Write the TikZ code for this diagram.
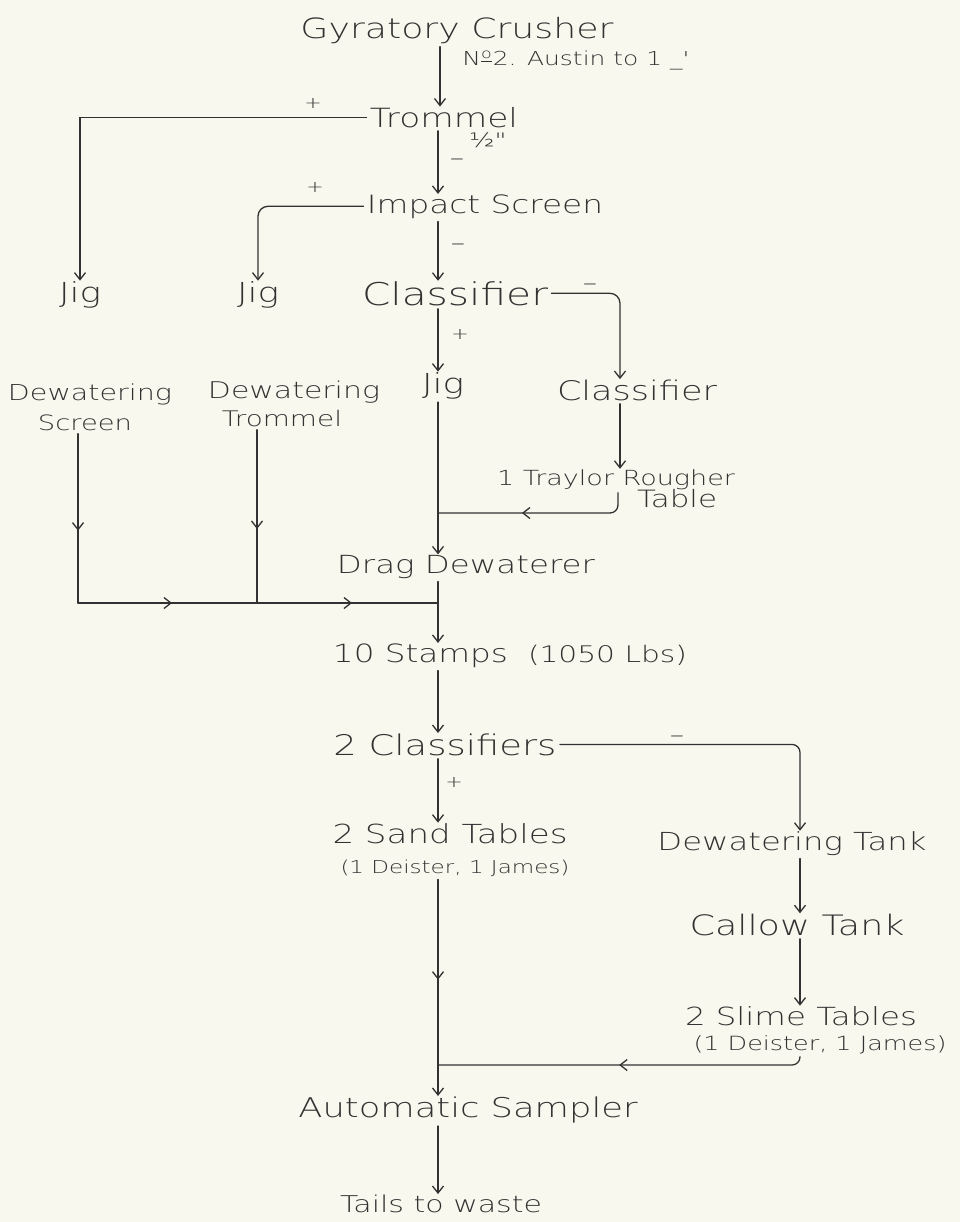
\documentclass[tikz,border=0pt]{standalone}
\usepackage{fontspec}
\newfontfamily\hand{DejaVu Sans ExtraLight}[FakeStretch=1.3]
\usetikzlibrary{arrows.meta,decorations.markings}
\definecolor{paper}{RGB}{248,248,238}
\definecolor{ink}{RGB}{50,50,50}
\newcommand\tw[2]{\resizebox{\dimexpr #1pt/2\relax}{!}{#2}}
\begin{document}
\begin{tikzpicture}[x=0.5pt,y=-0.5pt,color=ink,
  lbl/.style={font=\hand, text=ink, inner sep=0pt, anchor=base},
  sgn/.style={font=\hand\fontsize{8}{8}\selectfont, text=ink, inner sep=0pt, anchor=center},
  msgn/.style={font=\hand\fontsize{11}{11}\selectfont, text=ink, inner sep=0pt, anchor=center},
  wire/.style={draw=ink, line width=0.65pt, line cap=round, shorten <=1.5pt},
  arr/.style={wire, -{Straight Barb[length=3.5pt,width=5.5pt]}},
  midarr/.style={postaction={decorate}, decoration={markings,
      mark=at position #1 with {\arrow{Straight Barb[length=3.5pt,width=5.5pt]}}}},
  midarrtwo/.style 2 args={postaction={decorate}, decoration={markings,
      mark=at position #1 with {\arrow{Straight Barb[length=3.5pt,width=5.5pt]}},
      mark=at position #2 with {\arrow{Straight Barb[length=3.5pt,width=5.5pt]}}}},
]
\path[fill=paper] (0,0) rectangle (960,1222);
\useasboundingbox (0,0) rectangle (960,1222);

% trunk x positions
\coordinate (T0) at (440,0);
\coordinate (T) at (438,0);
\coordinate (B) at (620,0);
\coordinate (Bt) at (618,0);
\coordinate (R) at (800,0);
\coordinate (L) at (78,0);
\coordinate (M) at (257,0);
\coordinate (j1) at (438,513);
\coordinate (j2) at (438,603);
\coordinate (j3) at (438,1065);
\coordinate (cL) at (78,603);
\coordinate (cM) at (257,603);

% nodes
\node[lbl] (crusher) at (457,38) {\tw{313}{Gyratory Crusher}};
\node[lbl] (austin) at (576,65) {\tw{227}{N\textsuperscript{\underline{o}}2. Austin to 1 \_'}};
\node[lbl] (trommel) at (444,127) {\tw{148}{Trommel}};
\node[lbl, font=\hand\fontsize{10}{10}\selectfont] (half) at (488,147) {½"};
\node[lbl] (impact) at (485,213) {\tw{236}{Impact Screen}};
\node[lbl] (jigL) at (80,302) {\tw{42}{Jig}};
\node[lbl] (jigM) at (258,302) {\tw{42}{Jig}};
\node[lbl] (classA) at (455,305) {\tw{186}{Classifier}};
\node[lbl] (jigC) at (443,393) {\tw{42}{Jig}};
\node[lbl] (classB) at (637,400) {\tw{160}{Classifier}};
\node[lbl] (traylor) at (616,485) {\tw{238}{1 Traylor Rougher}};
\node[lbl] (table) at (677,507) {\tw{80}{Table}};
\node[lbl] (dewS) at (90,400) {\tw{164}{Dewatering}};
\node[lbl] (dewSb) at (85,430) {\tw{94}{Screen}};
\node[lbl] (dewT) at (294,398) {\tw{172}{Dewatering}};
\node[lbl] (dewTb) at (282,426) {\tw{120}{Trommel}};
\node[lbl] (drag) at (466,573) {\tw{258}{Drag Dewaterer}};
\node[lbl] (stamps) at (510,662) {\tw{175}{10 Stamps}\hspace{10pt}\tw{159}{(1050 Lbs)}};
\node[lbl] (class2) at (445,755) {\tw{223}{2 Classifiers}};
\node[lbl] (sand) at (450,843) {\tw{235}{2 Sand Tables}};
\node[lbl] (sandb) at (455,873) {\tw{229}{(1 Deister, 1 James)}};
\node[lbl] (dtank) at (792,850) {\tw{269}{Dewatering Tank}};
\node[lbl] (callow) at (797,935) {\tw{215}{Callow Tank}};
\node[lbl] (slime) at (801,1025) {\tw{232}{2 Slime Tables}};
\node[lbl] (slimeb) at (820,1050) {\tw{253}{(1 Deister, 1 James)}};
\node[lbl] (sampler) at (468,1117) {\tw{339}{Automatic Sampler}};
\node[lbl] (tails) at (441,1212) {\tw{202}{Tails to waste}};

% signs
\node[sgn] (p1) at (313,103) {+};
\node[msgn] (m1) at (457,162) {–};
\node[sgn] (p2) at (315,187) {+};
\node[msgn] (m2) at (458,247) {–};
\node[msgn] (m3) at (590,287) {–};
\node[sgn] (p3) at (460,334) {+};
\node[msgn] (m4) at (677,739) {–};
\node[sgn] (p4) at (454,782) {+};

% connectors
\draw[arr] (crusher.south -| T0) -- (trommel.north -| T0);
\draw[arr] (trommel.south -| T) -- (impact.north -| T);
\draw[arr] (trommel.west) -| (jigL.north);
\draw[arr, rounded corners=5pt] (impact.west) -| (jigM.north);
\draw[arr] (impact.south -| T) -- (classA.north -| T);
\draw[arr, rounded corners=5pt] (classA.east) -| (classB.north -| B);
\draw[arr] (classA.south -| T) -- (jigC.north -| T);
\draw[arr] (classB.south -| B) -- (traylor.north -| B);
\draw[wire, rounded corners=4pt, midarr=0.58] (traylor.south -| Bt) |- (j1);
\draw[arr] (jigC.south -| T) -- (drag.north -| T);
\draw[wire, midarr=0.58] (dewSb.south -| L) -- (cL);
\draw[wire, shorten <=0pt, midarrtwo={47pt}{137pt}] (cL) -- (j2);
\draw[wire, midarr=0.58] (dewTb.south -| M) -- (cM);
\draw[arr] (drag.south -| T) -- (stamps.north -| T);
\draw[arr] (stamps.south -| T) -- (class2.north -| T);
\draw[arr, rounded corners=4pt] (class2.east) -| (dtank.north -| R);
\draw[arr] (class2.south -| T) -- (sand.north -| T);
\draw[arr] (dtank.south -| R) -- (callow.north -| R);
\draw[arr] (callow.south -| R) -- (slime.north -| R);
\draw[wire, rounded corners=4pt, midarr=0.51] (slimeb.south -| R) |- (j3);
\draw[arr, midarr=0.47] (sandb.south -| T) -- (sampler.north -| T);
\draw[arr] (sampler.south -| T) -- (tails.north -| T);
\end{tikzpicture}
\end{document}
